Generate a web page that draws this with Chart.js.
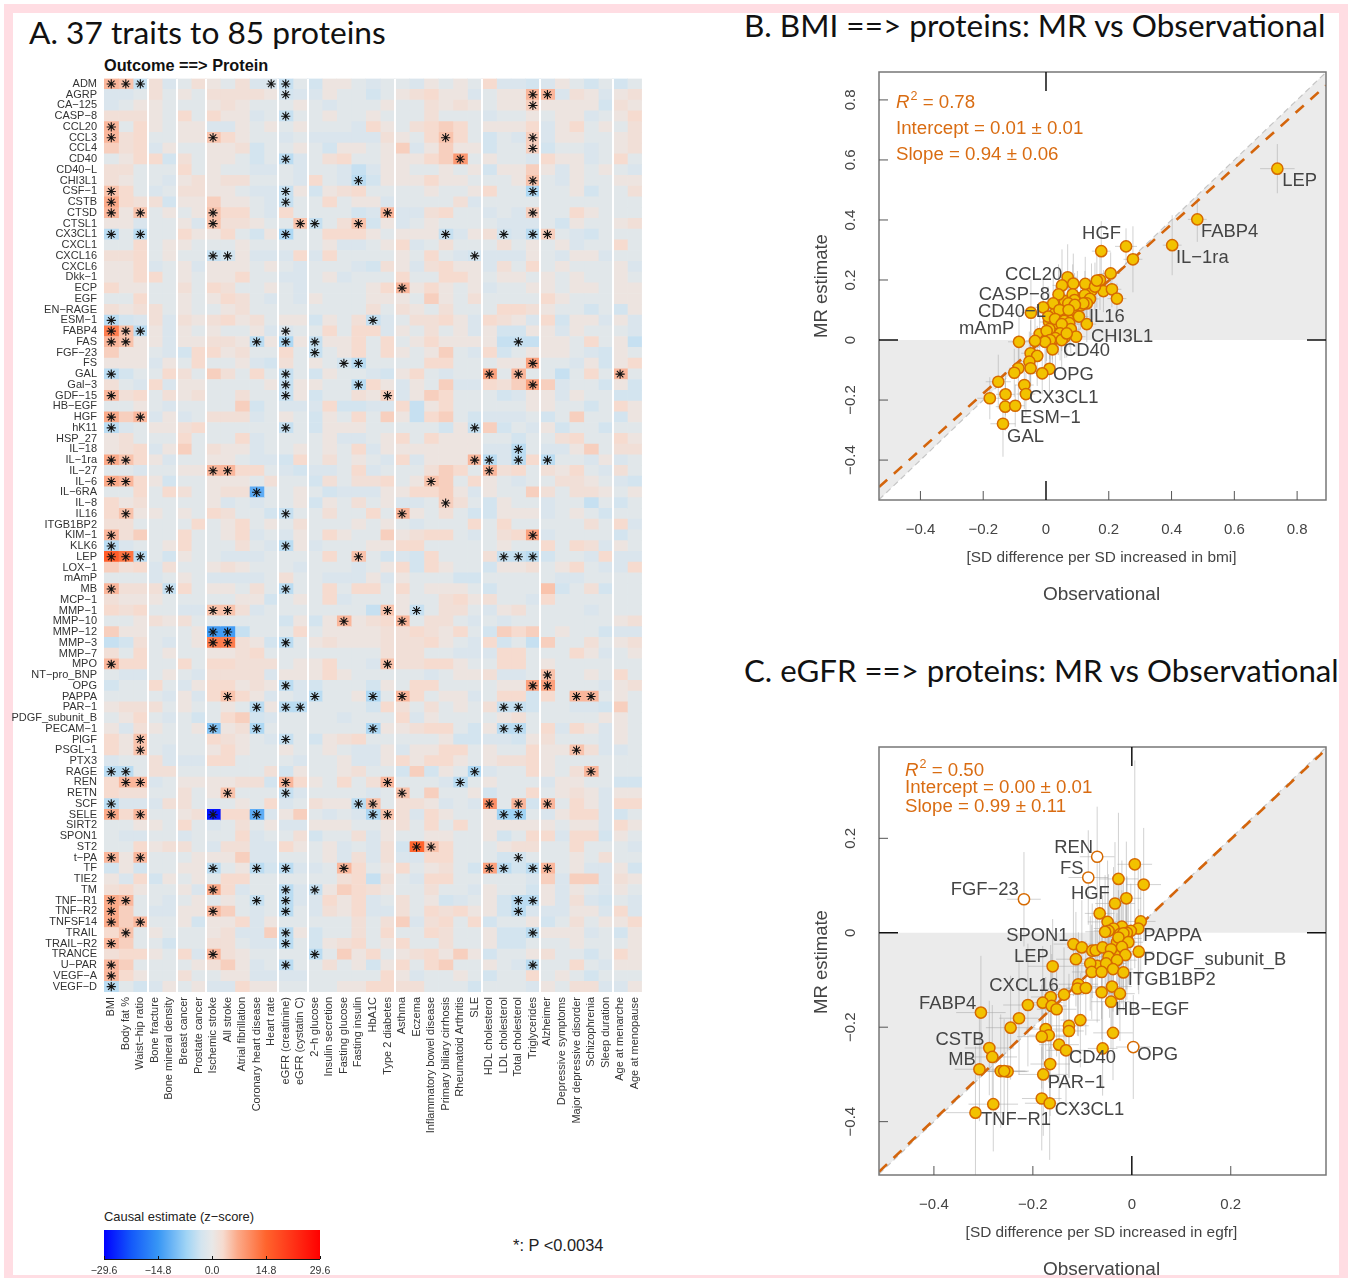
<!DOCTYPE html>
<html>
<head>
<meta charset="utf-8">
<title>Traits to proteins</title>
<script src="https://cdn.jsdelivr.net/npm/chart.js@4/dist/chart.umd.js"></script>
<style>
  html, body { margin: 0; padding: 0; background: #fff; }
  body { position: relative; width: 1356px; height: 1278px; overflow: hidden; }
  #frame { position: absolute; left: 4px; top: 4px; width: 1344px; height: 1280px; box-sizing: border-box; border: 9px solid #ffdde3; }
  canvas { position: absolute; }
  .head { position: absolute; font-family: Lato, sans-serif; color: #111; white-space: nowrap; line-height: 1; }
  .note { position: absolute; font-family: "Liberation Sans", sans-serif; color: #222; white-space: nowrap; line-height: 1; }
</style>
</head>
<body>
<div id="frame"></div>
<div class="head" style="left:29px;top:17px;font-size:31.7px">A. 37 traits to 85 proteins</div>
<div class="head" style="left:744px;top:10px;font-size:31.5px">B. BMI ==&gt; proteins: MR vs Observational</div>
<div class="head" style="left:744px;top:655px;font-size:31.2px">C. eGFR ==&gt; proteins: MR vs Observational</div>
<div class="note" style="left:104px;top:57px;font-size:16.3px;font-weight:bold;color:#111">Outcome ==&gt; Protein</div>
<div class="note" style="left:104px;top:1211px;font-size:12.9px">Causal estimate (z−score)</div>
<div class="note" style="left:513px;top:1237px;font-size:16.4px">*: P &lt;0.0034</div>

<canvas id="heat" width="653" height="1144" style="left:0;top:65px"></canvas>
<canvas id="scale" width="290" height="53" style="left:70px;top:1225px"></canvas>
<canvas id="bmi" width="540" height="550" style="left:800px;top:60px"></canvas>
<canvas id="egfr" width="540" height="543" style="left:800px;top:735px"></canvas>

<script>
// Panel A: heatmap
const proteins = ['ADM','AGRP','CA−125','CASP−8','CCL20','CCL3','CCL4','CD40','CD40−L','CHI3L1','CSF−1','CSTB','CTSD','CTSL1','CX3CL1','CXCL1','CXCL16','CXCL6','Dkk−1','ECP','EGF','EN−RAGE','ESM−1','FABP4','FAS','FGF−23','FS','GAL','Gal−3','GDF−15','HB−EGF','HGF','hK11','HSP_27','IL−18','IL−1ra','IL−27','IL−6','IL−6RA','IL−8','IL16','ITGB1BP2','KIM−1','KLK6','LEP','LOX−1','mAmP','MB','MCP−1','MMP−1','MMP−10','MMP−12','MMP−3','MMP−7','MPO','NT−pro_BNP','OPG','PAPPA','PAR−1','PDGF_subunit_B','PECAM−1','PlGF','PSGL−1','PTX3','RAGE','REN','RETN','SCF','SELE','SIRT2','SPON1','ST2','t−PA','TF','TIE2','TM','TNF−R1','TNF−R2','TNFSF14','TRAIL','TRAIL−R2','TRANCE','U−PAR','VEGF−A','VEGF−D'];
const traits = ['BMI','Body fat %','Waist−hip ratio','Bone fracture','Bone mineral density','Breast cancer','Prostate cancer','Ischemic stroke','All stroke','Atrial fibrillation','Coronary heart disease','Heart rate','eGFR (creatinine)','eGFR (cystatin C)','2−h glucose','Insulin secretion','Fasting glucose','Fasting insulin','HbA1C','Type 2 diabetes','Asthma','Eczema','Inflammatory bowel disease','Primary biliary cirrhosis','Rheumatoid Arthritis','SLE','HDL cholesterol','LDL cholesterol','Total cholesterol','Triglycerides','Alzheimer','Depressive symptoms','Major depressive disorder','Schizophrenia','Sleep duration','Age at menarche','Age at menopause'];
const groupBreaks = [3, 5, 7, 12, 14, 20, 26, 30, 35];

const zScores = [
[6,5,-4,2,-2,-1,2,1,-1,2,-2,-2,-4,-1,-3,1,1,-1,-2,-1,-1,-2,1,-1,1,-1,3,-2,-2,-3,-2,1,-1,-3,-1,-3,-1],
[-2,-2,-1,2,-1,1,-1,2,2,2,2,1,-3,-2,-2,1,-1,-1,-3,-1,1,2,3,1,1,-2,-1,1,1,6,6,-2,2,1,-2,1,2],
[-2,-1,1,1,-1,-1,-1,1,2,1,-1,-1,-1,1,-1,-2,-1,-1,-1,1,-1,-1,2,1,2,1,-1,1,1,4,1,1,1,1,-3,2,1],
[2,2,2,1,-1,3,-1,3,1,1,-2,-1,-4,-1,-1,1,-1,-1,1,-1,-1,-1,2,-1,-1,-1,-2,-1,-1,1,-1,1,1,-2,-1,1,3],
[6,-1,3,1,-1,1,1,-2,-2,1,-1,1,-1,1,-1,-1,-1,-2,3,1,-1,2,3,4,3,-1,1,1,1,3,-2,1,3,-1,1,-1,2],
[6,2,3,-1,-1,1,1,5,3,1,-1,-1,-2,-1,-2,-2,-2,-2,-2,2,1,-1,3,5,3,-1,-3,-1,-2,4,-2,1,1,-1,-1,1,2],
[4,2,3,-2,1,-1,-1,1,1,2,-3,-1,-1,1,-1,-3,1,1,-1,1,4,-2,1,4,1,1,-3,-1,-1,4,-3,-1,-1,-2,-1,1,2],
[-1,1,3,3,-3,2,-1,1,1,-1,-3,-1,-5,-2,-1,2,3,-1,-1,1,1,1,3,4,9,-1,1,-1,-1,-2,3,1,1,-2,-1,3,-1],
[2,2,-1,-1,-1,3,-1,1,-1,-1,-2,-2,-1,-2,-1,-1,-2,-4,-2,1,1,-1,-1,1,-1,1,-3,1,1,4,1,-2,1,-1,1,-1,-2],
[2,1,-1,-1,-2,1,2,1,2,2,-1,-1,-1,-2,3,-1,-2,-5,-3,1,1,1,3,1,1,-1,-1,-1,1,5,-1,-2,1,-1,-1,1,1],
[5,3,-1,-2,-1,2,2,1,1,-1,-2,-2,-4,1,-3,1,2,3,-1,-1,-1,-1,1,-1,-1,1,3,-1,-1,-6,-1,-1,1,-3,-1,-1,2],
[7,3,2,2,-3,1,1,4,1,1,-1,-2,-4,-1,-1,3,-1,1,1,-2,-1,-1,-1,-1,2,-2,-1,-1,-1,-1,-1,-1,-1,-1,-1,-1,-1],
[6,1,5,-1,1,-1,1,5,3,3,-1,-2,3,-1,-1,-1,-1,-3,-2,6,-2,-2,2,3,-1,-1,-2,-1,-2,4,-1,-1,3,1,-1,-1,-1],
[1,1,-2,-1,-1,1,-2,5,2,2,1,-1,-1,5,-4,-1,2,5,-3,1,-2,-1,1,-1,-1,-1,-1,-2,-2,-2,-1,-3,1,-1,-1,1,2],
[-5,-1,-5,-1,-1,3,1,1,3,-1,-3,1,-6,-1,-1,3,3,3,1,-1,1,1,1,-4,-2,1,2,-3,-2,-5,4,-1,-2,-3,-1,-1,-1],
[-1,-1,3,-1,1,1,-1,-1,-1,1,-1,-1,-1,-1,-1,1,-2,-2,-1,1,3,-2,-1,2,-1,-1,-1,2,-1,1,-1,1,-2,-1,-1,3,-1],
[2,2,3,-1,1,-1,-1,-4,-3,1,-2,-2,-2,3,-2,3,-1,-1,-1,-1,1,-1,3,-1,-2,-3,-2,-2,-2,1,-1,-2,1,1,-2,-1,-1],
[1,1,3,-2,-1,1,-2,1,1,1,-1,1,-1,-2,-1,-1,-1,-2,-3,2,1,-2,2,3,1,1,-2,2,-1,3,-1,1,-1,-1,-1,1,-2],
[1,1,3,3,-1,1,-1,1,1,3,-1,-1,-2,-2,-1,1,-2,-1,-1,-1,3,-1,-1,3,3,1,-1,1,1,-1,1,-1,1,-1,-1,1,-1],
[3,1,1,-1,-1,2,-1,3,2,-1,-1,1,-1,-2,-1,-1,-1,-1,1,3,6,1,3,1,-1,1,-2,-1,-1,1,1,-1,1,1,-1,1,1],
[-1,-1,3,-1,-1,1,-1,1,3,2,-1,-2,-1,-2,1,-1,-1,-1,1,1,1,-1,4,1,-1,2,-1,-1,-1,-1,3,1,-1,-1,-1,1,1],
[2,1,2,2,-1,1,-1,-1,1,2,-1,-1,-1,-1,-1,-1,-1,-1,2,-1,2,1,-1,2,-1,-1,-1,3,3,2,1,-1,-1,-3,-1,-3,1],
[-5,-3,-2,2,-2,2,1,2,3,1,2,-1,1,1,-3,1,-1,2,-4,-2,-1,2,2,3,1,-2,3,2,1,-2,3,-3,1,1,-2,1,-2],
[12,5,-5,1,-2,1,-1,1,-1,-1,1,-2,-2,-1,-1,3,-1,3,3,-2,1,-1,2,-1,1,-2,1,-3,-3,1,1,-2,1,-1,-1,-1,-2],
[6,5,1,1,-2,1,1,2,2,1,-5,1,-6,1,-4,1,1,3,-1,3,-1,1,3,1,1,1,1,-4,-4,-4,1,1,-1,3,-1,1,-4],
[4,1,1,-1,-2,-3,3,3,1,2,-1,-1,3,-1,-4,-1,1,3,-1,3,1,-1,1,4,-1,-2,3,-3,-1,1,1,1,-1,-2,-3,1,-1],
[1,1,1,-2,1,-1,3,-1,-1,1,-2,-3,2,-1,1,-1,-3,-5,-1,-1,-1,-1,3,3,-1,-1,-1,1,1,8,-1,-1,-2,1,-3,1,3],
[-5,-3,-1,-1,3,2,-1,4,2,-1,3,-1,-4,-1,-3,1,-1,-1,-2,-3,1,3,-1,-2,-1,-1,8,-1,6,-1,-1,-4,-1,3,-1,6,-1],
[2,-1,-2,3,-2,1,1,-1,-1,-1,-1,1,-4,1,1,-1,-1,-5,3,1,-2,1,-1,4,-2,-2,3,2,4,8,4,-2,-1,-1,-3,1,-3],
[6,2,3,-1,2,1,2,-1,-1,2,-1,-1,-4,1,-3,-1,-1,2,1,4,-2,1,4,3,-1,-1,-1,-3,-2,1,1,-2,1,-1,-1,-3,-3],
[-1,-1,1,-1,-2,-1,-1,-1,-1,4,-3,-1,-2,-2,-2,3,-3,-3,-2,-2,3,-4,1,3,-1,-1,-1,-1,-1,1,1,-1,-1,-3,-1,3,1],
[7,4,6,-2,1,-2,-1,2,2,2,-2,-1,1,-1,-3,1,-1,3,-1,4,1,-4,3,4,-1,-3,-2,-2,-2,-1,-3,-1,4,-1,-1,-3,1],
[-5,-2,-1,1,1,2,3,-1,-1,-1,-1,-1,-4,-1,-3,1,1,1,-1,-1,-1,-1,-1,-3,1,-4,4,-3,-1,-2,1,-3,-1,-1,-3,-1,-1],
[1,2,-1,-1,-1,3,-1,-1,-1,3,-2,-1,-1,-1,-1,1,-2,-2,-1,1,3,-1,3,1,1,1,-1,-1,-3,-1,-1,2,3,-1,-1,3,1],
[1,2,3,-2,1,4,-1,2,1,1,-2,-1,-1,1,-1,1,-1,3,-2,1,1,1,1,1,1,1,-2,-2,-5,-1,-2,-2,1,4,-1,2,2],
[7,5,3,1,-2,-1,-1,1,1,-1,-2,-2,-3,3,-1,2,-1,1,-1,-2,3,-2,1,1,1,6,-5,-2,-5,3,-5,-1,-1,-2,1,-2,-1],
[-1,-1,-2,-1,-1,1,1,6,6,3,3,-1,-2,-3,-2,-2,-1,3,-2,-1,-1,-1,2,4,3,-1,6,2,3,-1,2,1,3,-1,-2,2,-1],
[7,6,3,1,-3,-1,-1,1,1,1,-1,2,-1,-1,-3,2,-1,2,2,3,-1,1,5,4,-1,3,1,-1,-2,-1,-1,2,2,1,-1,-2,-3],
[-1,-1,3,-1,3,2,-1,1,2,2,-12,-1,-1,1,-1,-3,-2,-2,-2,1,1,3,3,4,1,-2,1,-1,-1,4,2,-1,2,2,1,-1,1],
[3,1,2,-1,-1,-1,-1,1,-2,-1,-2,-1,-1,1,-3,1,-1,2,-1,1,-2,-2,-1,4,2,-1,-3,1,-1,-1,-2,-1,-1,-4,-1,-3,-1],
[3,5,1,1,-1,1,-1,3,2,-1,-1,-3,-4,-1,-1,2,-1,-1,3,-1,6,1,-1,2,-1,-3,-3,1,1,1,-2,-1,1,-1,-3,-1,-1],
[2,2,-1,-1,-1,-1,3,-1,1,3,-1,1,-1,2,-1,-1,-1,1,-1,1,-1,-2,-1,-1,-1,3,-1,3,-1,-1,-1,-1,-1,2,-1,3,-2],
[6,2,4,-1,-1,3,-1,-1,1,3,-2,-1,-2,1,-1,3,1,-1,-1,4,1,2,3,3,-1,-2,-1,2,3,8,-2,-1,-1,-1,-1,-3,-1],
[-5,-2,-1,-1,1,3,-1,-1,-1,2,-1,-2,-5,1,-2,-1,-1,-1,1,1,3,3,-1,-1,-1,-1,-1,1,-1,-1,3,-1,3,2,-2,1,-1],
[16,13,-5,-1,-3,1,-1,-1,-2,-2,-2,-1,-1,-1,-1,3,-1,5,-1,-3,-2,-3,3,-1,-1,-1,2,-4,-4,-5,-3,-1,-1,-2,3,-2,-2],
[4,2,3,-2,2,-1,-1,1,2,1,-1,-1,-1,-2,-1,-1,-1,-2,-1,1,3,-3,3,1,-1,-1,-3,1,1,2,-1,1,3,-1,-2,-2,3],
[-1,-1,-1,-2,-1,1,-1,-2,-2,-2,-2,-1,2,-1,-1,-2,-2,-2,1,-2,1,-1,-1,-1,-3,-3,-1,-1,-1,-1,-1,-2,-2,-1,-1,-1,-1],
[6,2,2,2,-4,3,-1,1,1,-1,2,-1,-5,-1,-1,3,-1,3,3,-1,3,-1,1,1,1,-1,-3,-1,-1,-1,5,-3,-1,2,-3,-1,-1],
[2,1,1,1,-1,-1,-1,-1,-1,1,1,-3,-1,1,-1,3,-2,-1,-1,-1,1,-1,-1,2,3,1,2,-1,-1,-2,3,-1,-1,-1,-1,-1,-1],
[3,2,3,-1,-1,-2,-2,5,5,2,-2,-1,-1,-1,-1,-1,-1,-1,-4,5,1,-4,-1,2,2,-1,-2,1,2,-1,-1,-1,-1,-2,-1,-1,-1],
[-1,-1,1,2,1,2,-1,-1,-1,-1,-1,-1,-3,1,-3,1,6,1,2,3,6,-1,2,2,-1,-2,-1,-2,-1,-1,-1,-1,-1,-1,-1,1,2],
[4,1,1,-1,-1,-1,1,-14,-14,-4,-1,-1,-1,3,-1,1,1,1,1,2,2,3,2,1,3,-1,-3,4,3,4,-1,1,-1,-1,-3,-2,-2],
[-4,-3,2,-1,-2,-1,1,12,12,2,1,-3,-5,-1,1,2,1,1,1,2,2,2,3,1,-1,-2,3,-3,-1,-4,4,-1,-1,2,-1,1,2],
[2,-1,3,-1,1,-1,-1,1,1,2,3,-1,-1,-1,-1,-1,-1,-1,-1,2,2,2,-1,-1,-2,-2,-2,3,3,-1,-1,-1,3,1,-2,-1,1],
[6,3,3,-1,-1,3,-1,3,3,2,2,2,-1,1,1,3,-1,-1,-2,5,2,2,3,3,1,-1,-1,3,3,-1,1,-1,-1,-1,-1,-1,-1],
[-1,-2,-2,-1,1,-1,-2,2,2,2,2,-2,1,1,1,3,1,-1,-1,-1,-1,-1,-2,-1,1,1,2,-2,-2,-1,5,-1,-1,1,-1,3,-1],
[-3,-1,-1,3,-1,-2,1,3,3,1,2,1,-5,-2,-3,-1,-1,-1,-3,1,-1,3,3,-1,-1,-1,-1,1,1,8,8,-1,-1,-1,-2,1,2],
[-1,-1,-1,-1,-2,1,-2,3,5,3,1,-2,-1,-2,-5,-1,-1,1,-6,-1,6,3,-1,1,1,-2,-1,3,3,-3,3,-1,6,6,-1,1,-1],
[1,2,2,2,-1,1,-1,-1,1,-1,-5,1,-5,-5,-1,-1,-1,-1,-3,3,2,-1,2,-1,1,-1,2,-4,-4,-3,-1,-1,-2,-2,-3,4,-1],
[-1,1,3,-1,-2,-1,-3,-1,3,4,-3,-2,-1,-1,-1,-1,-2,-1,-1,-1,3,-2,1,-1,-1,-1,-1,1,2,-1,-1,-1,-1,-1,1,1,-1],
[1,-2,2,1,-1,-1,1,-9,1,2,-6,-1,-1,-1,-1,-1,-1,-1,-6,1,1,2,3,3,-1,-3,1,-5,-5,-1,3,-2,3,1,-2,1,-1],
[3,1,5,-1,-1,-1,-1,3,2,1,-1,-2,-4,-1,-3,1,2,3,-1,-1,-1,-1,-1,1,-3,-3,-2,-2,-3,1,2,-1,-1,-1,-2,1,-1],
[3,1,5,-1,-2,-1,-1,1,3,1,-1,-1,1,-1,-1,1,-1,-2,-2,1,-2,1,1,3,3,-1,1,-1,-1,3,1,1,5,2,-2,-2,-1],
[-2,-1,-1,2,-2,-2,-2,3,3,-1,-1,-1,-1,-2,-1,-1,1,-2,-2,1,3,1,3,3,1,-1,1,2,2,3,1,-1,-1,-1,-1,-1,-1],
[-5,-5,-1,2,2,-1,-1,-1,-1,-1,-1,2,-3,1,-1,-1,1,2,-1,-1,-3,4,-3,1,-1,-6,-2,-1,-1,3,1,-1,2,6,-1,-1,-1],
[3,6,6,-2,-1,1,1,1,1,2,2,-3,6,3,1,-1,3,-1,2,6,-1,-1,-1,-2,-5,-1,1,-1,-1,-1,-2,1,1,-1,-1,-3,-3],
[3,2,2,-1,-1,2,-1,1,5,-1,-1,-1,-4,-2,-1,-1,-1,-1,-2,-1,5,-1,4,-1,-1,1,-3,-1,-1,3,-1,1,2,1,-2,1,1],
[-5,-2,-2,-2,2,2,-1,-1,-1,1,-1,3,-2,-1,2,1,1,-5,5,-1,2,2,1,-2,-1,-2,10,-1,6,-3,6,-1,3,1,-2,3,3],
[7,3,6,-1,-1,1,2,-28,3,3,-12,-2,1,4,-1,-2,-1,-2,-6,5,2,-2,3,1,-1,-1,1,-7,-7,-1,-2,1,3,3,-2,-3,-1],
[-1,-1,1,1,-1,3,-1,-2,-1,2,-1,1,-2,-2,1,1,1,-1,-1,1,2,-1,3,-1,3,-1,1,1,1,1,1,-1,1,1,-2,3,1],
[-1,-2,-2,-1,-1,-2,-1,-1,-1,3,-2,-1,-1,2,-3,-1,-1,2,-2,1,-1,-1,1,1,-1,-1,1,-3,-1,3,3,-2,3,3,-3,1,-1],
[-1,-1,3,1,2,2,-1,-2,2,2,-2,-2,3,1,-1,1,-2,-1,-2,2,-3,15,5,3,-1,-1,-1,1,2,2,-1,-1,3,-1,-1,-1,-2],
[6,1,6,-1,-1,-1,1,1,1,4,-2,-2,-1,-1,-1,1,-2,2,-2,2,-2,-2,3,3,-1,-1,-1,-3,-3,-1,-1,-1,1,-1,2,-1,-1],
[-3,1,-3,-1,-1,1,1,-5,-1,1,-5,-3,-5,-2,-2,-1,6,3,-1,1,3,-1,1,2,-1,-3,8,-5,-3,-5,6,-1,1,-2,-2,1,-3],
[1,-2,3,-3,1,-1,1,-1,3,3,-1,-1,-1,-1,-1,-1,2,3,-4,2,-1,-2,3,3,-1,-1,-1,-1,-1,-2,4,-2,4,4,-2,2,1],
[2,3,1,-1,-1,1,-2,7,3,-2,-1,-1,-5,-2,-4,1,4,3,2,1,-1,-1,2,-1,-1,-2,1,-1,-1,-3,1,-2,1,-1,-2,1,-1],
[7,6,-1,-1,-2,-1,1,-1,1,-1,-4,-1,-5,-2,-2,3,1,3,-2,-1,2,-1,1,-3,-2,-1,1,-3,-5,-5,1,-2,2,-2,-3,-1,-2],
[7,4,-1,-2,-2,1,1,6,4,-1,-2,-1,-5,-1,-2,2,1,3,-2,-2,2,-1,3,2,3,1,1,-3,-5,-2,-2,-2,1,1,-2,3,-2],
[7,4,6,-1,-1,1,-3,1,1,3,-2,1,-1,-1,-1,-1,-1,2,-1,2,4,-2,2,3,-1,3,-3,-1,-1,1,-3,-1,2,-1,1,1,3],
[3,5,-1,1,-1,-1,-1,1,2,-2,-2,4,-5,1,-3,-1,-1,2,-1,3,-1,-1,3,2,-1,-1,1,-3,-3,-5,1,1,1,-2,-1,-3,1],
[6,4,-1,-1,-3,-1,-1,2,2,-1,-2,-2,-5,-1,-3,1,2,3,-1,1,3,-1,-1,2,-1,-1,1,-3,-3,-1,-1,-1,1,-1,-1,-1,1],
[2,3,3,1,-1,3,-2,6,2,1,-1,-1,-1,-1,-5,-1,4,1,3,-1,1,2,3,1,4,1,-3,-1,-1,1,2,-1,-1,-3,-1,3,1],
[6,4,-1,-1,-1,-1,1,2,4,1,-2,-1,-5,-1,-1,2,-1,1,-3,1,3,-1,3,4,-1,-1,1,-1,-2,-5,-1,-1,3,-1,-2,1,1],
[6,3,1,-1,-1,2,-1,-1,1,1,-2,-2,-2,-2,-1,-1,-1,-1,-1,3,1,-2,-1,-1,1,-1,-3,-1,-1,3,-1,1,-1,-3,-1,-1,-1],
[-5,-1,-3,-2,1,-1,1,-2,-2,3,1,1,-1,-1,-1,-1,1,1,3,3,2,2,-1,-1,-1,-3,-1,-1,-1,-2,1,-1,2,2,-2,-2,1]
];

// columns of the cells marked with an asterisk, one list per protein
const starCols = [
[0,1,2,11,12],[12,29,30],[29],[12],[0],[0,7,23,29],[29],[12,24],[],[17,29],
[0,12,29],[0,12],[0,2,7,19,29],[7,13,14,17],[0,2,12,23,27,29,30],[],[7,8,25],[],[],[20],
[],[],[0,18],[0,1,2,12],[0,1,10,12,14,28],[14],[16,17,29],[0,12,26,28,35],[12,17,29],[0,12,19],
[],[0,2],[0,12,25],[],[28],[0,1,25,26,28,30],[7,8,26],[0,1,22],[10],[23],
[1,12,20],[],[0,29],[0,12],[0,1,2,17,27,28,29],[],[],[0,4,12],[],[7,8,19,21],
[16,20],[7,8],[7,8,12],[],[0,19],[30],[12,29,30],[8,14,18,20,32,33],[10,12,13,27,28],[],
[7,10,18,27,28],[2,12],[2,32],[],[0,1,25,33],[1,2,12,19,24],[8,12,20],[0,17,18,26,28,30],[0,2,7,10,18,19,27,28],[],
[],[21,22],[0,2,28],[7,10,12,16,26,27,29,30],[],[7,12,14],[0,1,10,12,28,29],[0,7,12,28],[0,2],[1,12,29],
[0,12],[7,14],[0,12,29],[0],[0]
];

const stopValues = [-29.6, -22, -14.8, -7, -3, 0, 3, 7, 14.8, 29.6];
const stopColors = [[0,0,255],[20,90,250],[55,150,245],[160,212,245],[211,228,239],[232,232,232],[246,219,207],[251,170,137],[255,100,45],[255,0,0]];
const scaleTicks = [-29.6, -14.8, 0, 14.8, 29.6];

// Panel B: BMI, observational (x) vs MR (y)
const bmiObs = [.06,.03,.065,.04,.025,.06,.02,.015,.035,.11,.145,.085,.01,.055,-.02,.07,0,.1,.737,.482,.402,.176,.255,.277,.206,.183,.21,.226,.069,.051,.087,.125,.156,.172,.162,.04,.085,.091,.124,.14,.13,.119,.023,.071,.092,-.009,-.048,.043,.072,.007,.029,.058,.105,.13,.074,.079,.05,.011,.002,.045,.096,.03,.013,-.003,-.035,-.086,.021,.05,.066,-.049,-.028,-.053,-.049,-.088,-.101,.011,-.012,-.152,-.069,-.064,-.129,-.179,-.13,-.098,-.137];
const bmiMr = [.13,.09,.045,.03,.045,.01,.015,-.01,.02,.115,.165,.085,.06,.095,.02,.07,0,.14,.571,.402,.316,.296,.312,.269,.222,.163,.169,.138,.209,.182,.188,.187,.178,.2,.198,.152,.152,.133,.15,.137,.122,.122,.122,.122,.117,.109,.091,.1,.1,.078,.07,.064,.078,.053,.056,.036,.053,.036,.03,.022,.011,.006,0,-.006,-.003,-.006,-.031,0,.022,-.044,-.053,-.072,-.094,-.094,-.109,-.096,-.111,-.139,-.15,-.18,-.181,-.194,-.222,-.219,-.279];
const bmiObsErr = [.03,.03,.02,.03,.03,.02,.03,.02,.03,.03,.03,.02,.03,.03,.03,.03,.02,.03,.055,.03,.03,.03,.035,.03,.03,.02,.03,.03,.03,.03,.03,.03,.03,.03,.03,.02,.03,.02,.03,.03,.02,.03,.03,.02,.03,.03,.03,.02,.03,.03,.02,.03,.03,.03,.02,.03,.03,.03,.02,.03,.03,.02,.03,.03,.03,.035,.02,.03,.03,.03,.02,.03,.03,.03,.03,.02,.03,.04,.03,.03,.03,.04,.03,.03,.04];
const bmiMrErr = [.08,.09,.07,.08,.09,.07,.08,.09,.07,.08,.09,.07,.1,.08,.09,.07,.08,.09,.082,.075,.1,.1,.06,.11,.07,.07,.06,.05,.11,.12,.1,.09,.08,.1,.09,.1,.1,.09,.08,.07,.08,.08,.1,.09,.08,.1,.11,.09,.09,.1,.09,.08,.07,.06,.08,.08,.09,.1,.1,.09,.06,.1,.09,.1,.11,.11,.08,.09,.08,.11,.1,.1,.1,.11,.08,.08,.07,.09,.08,.07,.07,.07,.08,.07,.11];

// Panel C: eGFR, observational (x) vs MR (y)
const egfrObs = [-.03,-.01,-.045,-.025,-.07,-.07,-.088,-.218,.006,.024,-.027,-.011,-.034,-.065,.018,-.049,.013,-.02,-.037,-.047,-.054,-.002,-.01,-.024,-.017,-.027,-.007,-.02,-.118,-.101,-.08,-.073,-.059,-.042,.014,-.013,-.113,-.047,-.03,-.052,-.084,-.16,-.081,-.061,-.038,-.017,-.108,-.11,-.093,-.061,-.04,-.024,-.042,-.137,-.164,-.18,-.162,-.152,-.21,-.228,-.245,-.305,-.104,-.127,-.127,-.174,-.168,-.182,-.038,-.147,-.133,-.059,.003,-.288,-.282,-.308,-.265,-.251,-.258,-.165,-.179,-.182,-.166,-.28,-.316];
const egfrMr = [-.02,-.012,-.06,-.045,-.07,.161,.117,.071,.145,.102,.114,.073,.062,.041,.024,.023,.009,.013,.009,.004,.002,.004,0,-.003,-.001,-.01,-.02,-.03,-.024,-.031,-.038,-.037,-.031,-.035,-.04,-.047,-.056,-.051,-.058,-.065,-.065,-.071,-.083,-.083,-.077,-.084,-.109,-.118,-.117,-.126,-.114,-.129,-.146,-.131,-.136,-.148,-.155,-.162,-.153,-.181,-.201,-.169,-.185,-.197,-.208,-.204,-.217,-.22,-.212,-.237,-.249,-.245,-.242,-.244,-.263,-.289,-.293,-.294,-.293,-.278,-.3,-.351,-.361,-.363,-.381];
const egfrObsErr = [.04,.03,.04,.03,.04,.035,.04,.034,.035,.035,.04,.03,.04,.03,.03,.04,.03,.03,.04,.03,.04,.03,.03,.04,.03,.03,.03,.04,.04,.03,.04,.04,.03,.04,.03,.04,.04,.03,.04,.04,.03,.05,.04,.03,.04,.03,.04,.03,.04,.03,.04,.03,.04,.04,.04,.04,.03,.04,.05,.04,.05,.05,.04,.04,.03,.04,.04,.05,.04,.04,.04,.03,.035,.05,.05,.05,.05,.04,.05,.04,.05,.04,.05,.05,.06];
const egfrMrErr = [.14,.13,.12,.12,.12,.106,.1,.1,.22,.12,.14,.12,.13,.12,.12,.13,.13,.14,.13,.12,.12,.1,.12,.11,.12,.1,.09,.12,.11,.1,.1,.09,.11,.1,.09,.11,.1,.11,.1,.09,.1,.1,.1,.1,.09,.08,.11,.1,.1,.1,.1,.1,.1,.1,.11,.12,.11,.1,.13,.12,.11,.12,.1,.11,.1,.11,.1,.11,.1,.12,.11,.1,.11,.1,.11,.11,.12,.1,.11,.11,.13,.11,.12,.1,.14];
const egfrHollow = [5, 6, 7, 72];

// Point labels in data units of each panel: name, x, y of the label's left middle
const bmiLabels = [['LEP',.753,.537],['FABP4',.494,.367],['IL−1ra',.414,.28],['HGF',.115,.36],['CCL20',-.131,.223],['CASP−8',-.214,.157],['CD40−L',-.217,.1],['mAmP',-.277,.043],['IL16',.137,.083],['CHI3L1',.143,.017],['CD40',.054,-.03],['OPG',.022,-.11],['CX3CL1',-.054,-.187],['ESM−1',-.083,-.253],['GAL',-.124,-.317]];
const egfrLabels = [['REN',-.157,.183],['FS',-.145,.139],['FGF−23',-.366,.095],['HGF',-.123,.086],['SPON1',-.254,-.003],['PAPPA',.023,-.003],['LEP',-.238,-.047],['PDGF_subunit_B',.023,-.053],['ITGB1BP2',-.008,-.096],['CXCL16',-.288,-.109],['FABP4',-.43,-.147],['HB−EGF',-.034,-.159],['CSTB',-.397,-.223],['MB',-.371,-.265],['CD40',-.127,-.261],['OPG',.011,-.254],['PAR−1',-.17,-.313],['CX3CL1',-.156,-.372],['TNF−R1',-.305,-.393]];

const sansFont = '"Liberation Sans", sans-serif';
Chart.defaults.font.family = sansFont;
Chart.defaults.animation = false;
Chart.defaults.plugins.legend.display = false;
Chart.defaults.plugins.tooltip.enabled = false;

function zColor(v) {
    let i = 0;
    while (i < stopValues.length - 2 && v > stopValues[i + 1]) i++;
    const t = (v - stopValues[i]) / (stopValues[i + 1] - stopValues[i]);
    const c = stopColors[i].map((a, k) => Math.round(a + (stopColors[i + 1][k] - a) * t));
    return 'rgb(' + c.join(',') + ')';
}

function minusText(v) {
    return String(v).replace('-', '\u2212');
}

// one floating bar per cell, one dataset per trait
const heatDatasets = traits.map((t, c) => ({
    label: t,
    data: proteins.map(() => [c, c + 1]),
    backgroundColor: zScores.map(row => zColor(row[c])),
    borderWidth: 0,
    grouped: false,
    barPercentage: 1,
    categoryPercentage: 1,
    xAxisID: 'x',
    yAxisID: 'y'
}));

const starPoints = [];
starCols.forEach((cols, r) => cols.forEach(c => starPoints.push({ x: c + 0.5, y: proteins[r] })));

heatDatasets.push({
    type: 'scatter',
    label: 'P < 0.0034',
    data: starPoints,
    pointStyle: 'star',
    pointRadius: 4.6,
    borderColor: '#111',
    borderWidth: 1.1,
    backgroundColor: '#111',
    order: -1,
    xAxisID: 'x',
    yAxisID: 'y'
});

new Chart(document.getElementById('heat'), {
    type: 'bar',
    data: { labels: proteins, datasets: heatDatasets },
    options: {
        responsive: false,
        indexAxis: 'y',
        layout: { padding: 0 },
        scales: {
            x: {
                type: 'linear', min: 0, max: 37,
                grid: { display: false, drawTicks: false },
                border: { display: false },
                afterBuildTicks: s => { s.ticks = traits.map((t, i) => ({ value: i + 0.5 })); },
                afterFit: s => { s.height = 217; },
                ticks: {
                    autoSkip: false, minRotation: 90, maxRotation: 90, padding: 5,
                    color: '#333', font: { size: 11 },
                    callback: v => traits[Math.floor(v)]
                }
            },
            gaps: {
                type: 'linear', min: 0, max: 37, position: 'top', axis: 'x',
                grid: { color: '#fff', lineWidth: 2, z: 1, drawTicks: false },
                border: { display: false },
                afterBuildTicks: s => { s.ticks = groupBreaks.map(v => ({ value: v })); },
                afterFit: s => { s.height = 0; },
                ticks: { display: false }
            },
            y: {
                type: 'category', offset: true,
                grid: { display: false, drawTicks: false },
                border: { display: false },
                afterFit: s => { s.width = 104; },
                ticks: { autoSkip: false, padding: 7, color: '#333', font: { size: 11 } }
            }
        }
    }
});

// Colour key
new Chart(document.getElementById('scale'), {
    type: 'bar',
    data: {
        labels: ['z'],
        datasets: [{
            data: [[scaleTicks[0], scaleTicks[4]]],
            barPercentage: 1,
            categoryPercentage: 1,
            borderWidth: 0,
            backgroundColor: ctx => {
                const s = ctx.chart.scales.x;
                if (!s || !ctx.chart.chartArea) return '#ccc';
                const g = ctx.chart.ctx.createLinearGradient(s.left, 0, s.right, 0);
                stopValues.forEach(v => g.addColorStop((v + 29.6) / 59.2, zColor(v)));
                return g;
            }
        }]
    },
    options: {
        responsive: false,
        indexAxis: 'y',
        layout: { padding: { left: 34, right: 40, top: 5 } },
        scales: {
            y: { display: false },
            x: {
                type: 'linear', min: -29.6, max: 29.6,
                grid: { display: false, drawTicks: false },
                border: { display: false },
                afterBuildTicks: s => { s.ticks = scaleTicks.map(v => ({ value: v })); },
                afterFit: s => { s.height = 19; },
                ticks: {
                    padding: 6, color: '#333', font: { size: 10.5 }, autoSkip: false, maxRotation: 0,
                    callback: v => minusText(v.toFixed(1))
                }
            }
        }
    },
    plugins: [{
        id: 'keyTicks',
        afterDatasetsDraw(chart) {
            const { ctx, chartArea, scales } = chart;
            ctx.save();
            ctx.strokeStyle = '#111';
            ctx.lineWidth = 1;
            ctx.beginPath();
            ctx.moveTo(chartArea.left, chartArea.bottom + 0.5);
            ctx.lineTo(chartArea.right, chartArea.bottom + 0.5);
            scaleTicks.forEach(v => {
                const x = Math.round(scales.x.getPixelForValue(v)) + 0.5;
                ctx.moveTo(x, chartArea.bottom);
                ctx.lineTo(x, chartArea.bottom - 3);
            });
            ctx.stroke();
            ctx.restore();
        }
    }]
});

// Panels B and C
const statsColor = '#d96c12';
const labelColor = '#444';

const panelPlugin = {
    id: 'panelText',
    afterDatasetsDraw(chart, args, o) {
        const { ctx, chartArea: a, scales: { x, y } } = chart;
        ctx.save();

        // box and inward ticks
        ctx.strokeStyle = '#777';
        ctx.lineWidth = 1.5;
        ctx.strokeRect(a.left, a.top, a.right - a.left, a.bottom - a.top);
        ctx.lineWidth = 1;
        ctx.strokeStyle = '#555';
        ctx.beginPath();
        o.ticks.forEach(v => {
            if (v === 0) return;
            const py = y.getPixelForValue(v), px = x.getPixelForValue(v);
            ctx.moveTo(a.left, py); ctx.lineTo(a.left + 9, py);
            if (x.max > v) { ctx.moveTo(px, a.bottom); ctx.lineTo(px, a.bottom - 9); }
        });
        ctx.stroke();
        const x0 = x.getPixelForValue(0), y0 = y.getPixelForValue(0);
        ctx.strokeStyle = '#111';
        ctx.lineWidth = 1.5;
        ctx.beginPath();
        ctx.moveTo(a.left, y0); ctx.lineTo(a.left + 19, y0);
        ctx.moveTo(a.right, y0); ctx.lineTo(a.right - 19, y0);
        ctx.moveTo(x0, a.top); ctx.lineTo(x0, a.top + 19);
        ctx.moveTo(x0, a.bottom); ctx.lineTo(x0, a.bottom - 19);
        ctx.stroke();

        // y tick labels are rotated
        ctx.fillStyle = labelColor;
        ctx.textBaseline = 'middle';
        ctx.textAlign = 'center';
        ctx.font = '15px ' + sansFont;
        o.ticks.forEach(v => {
            if (y.getPixelForValue(v) < a.top) return;
            ctx.save();
            ctx.translate(a.left - 28, y.getPixelForValue(v));
            ctx.rotate(-Math.PI / 2);
            ctx.fillText(v === 0 ? '0' : minusText(v), 0, 0);
            ctx.restore();
        });

        ctx.font = '18.5px ' + sansFont;
        ctx.save();
        ctx.translate(a.left - 57, (a.top + a.bottom) / 2 + o.yTitleShift);
        ctx.rotate(-Math.PI / 2);
        ctx.fillText('MR estimate', 0, 0);
        ctx.restore();
        ctx.font = '19px ' + sansFont;
        ctx.fillText('Observational', (a.left + a.right) / 2 - 1, a.bottom + 95);
        ctx.font = '15.4px ' + sansFont;
        ctx.fillText(o.caption, (a.left + a.right) / 2 - 1, a.bottom + 58);

        // point labels
        ctx.textAlign = 'left';
        ctx.font = '18.4px ' + sansFont;
        o.labels.forEach(([name, lx, ly]) => {
            ctx.fillText(name, x.getPixelForValue(lx), y.getPixelForValue(ly) + 2);
        });

        // regression text
        ctx.fillStyle = statsColor;
        const sx = a.left + o.statsLeft;
        ctx.font = 'italic 18.7px ' + sansFont;
        ctx.fillText('R', sx, a.top + o.statsY[0]);
        let w = ctx.measureText('R').width;
        ctx.font = '12.5px ' + sansFont;
        ctx.fillText('2', sx + w + 1, a.top + o.statsY[0] - 6);
        w += ctx.measureText('2').width + 1;
        ctx.font = '18.7px ' + sansFont;
        ctx.fillText(' = ' + o.r2, sx + w, a.top + o.statsY[0]);
        ctx.fillText(o.intercept, sx, a.top + o.statsY[1]);
        ctx.fillText(o.slope, sx, a.top + o.statsY[2]);
        ctx.restore();
    }
};

function errorSegments(xs, ys, xe, ye) {
    const out = [];
    xs.forEach((v, i) => {
        out.push({ x: v - xe[i], y: ys[i] }, { x: v + xe[i], y: ys[i] }, { x: NaN, y: NaN });
        out.push({ x: v, y: ys[i] - ye[i] }, { x: v, y: ys[i] + ye[i] }, { x: NaN, y: NaN });
    });
    return out;
}

function makePanel(id, cfg) {
    new Chart(document.getElementById(id), {
        type: 'scatter',
        data: {
            datasets: [
                {
                    label: 'points',
                    data: cfg.xs.map((v, i) => ({ x: v, y: cfg.ys[i] })),
                    pointRadius: 5.6,
                    pointBorderWidth: 1.5,
                    pointBorderColor: '#d66a00',
                    pointBackgroundColor: ctx => cfg.hollow.includes(ctx.dataIndex) ? '#fff' : '#f2c200',
                    order: 0
                },
                {
                    label: 'fit',
                    type: 'line',
                    data: cfg.fit,
                    borderColor: '#d4650c',
                    borderWidth: 2.6,
                    borderDash: [11, 9],
                    pointRadius: 0,
                    order: 1
                },
                {
                    label: 'error bars',
                    type: 'line',
                    data: errorSegments(cfg.xs, cfg.ys, cfg.xe, cfg.ye),
                    borderColor: 'rgba(165,165,165,0.5)',
                    borderWidth: 1,
                    pointRadius: 0,
                    spanGaps: false,
                    order: 2
                },
                {
                    label: 'identity',
                    type: 'line',
                    data: cfg.identity,
                    borderColor: '#c6c6c6',
                    borderWidth: 1.2,
                    borderDash: [6, 4],
                    backgroundColor: '#ebebeb',
                    fill: 'origin',
                    pointRadius: 0,
                    order: 3
                }
            ]
        },
        options: {
            responsive: false,
            layout: { padding: { top: 12, right: 14 } },
            scales: {
                x: {
                    type: 'linear', min: cfg.xRange[0], max: cfg.xRange[1],
                    grid: { display: false, drawTicks: false },
                    border: { display: false },
                    afterBuildTicks: s => { s.ticks = cfg.ticks.filter(v => v < cfg.xRange[1]).map(v => ({ value: v })); },
                    afterFit: s => { s.height = cfg.xAxisHeight; },
                    ticks: {
                        padding: 21, color: labelColor, font: { size: 15 }, maxRotation: 0, autoSkip: false,
                        callback: v => v === 0 ? '0' : minusText(v)
                    }
                },
                y: {
                    type: 'linear', min: cfg.yRange[0], max: cfg.yRange[1],
                    grid: { display: false },
                    border: { display: false },
                    afterFit: s => { s.width = 79; },
                    ticks: { display: false }
                }
            },
            plugins: {
                panelText: {
                    ticks: cfg.ticks, caption: cfg.caption, labels: cfg.labels,
                    r2: cfg.r2, intercept: cfg.intercept, slope: cfg.slope,
                    statsLeft: cfg.statsLeft, statsY: cfg.statsY, yTitleShift: cfg.yTitleShift
                }
            }
        },
        plugins: [panelPlugin]
    });
}

makePanel('bmi', {
    xs: bmiObs, ys: bmiMr, xe: bmiObsErr, ye: bmiMrErr, hollow: [],
    xRange: [-0.532, 0.892], yRange: [-0.533, 0.893],
    ticks: [-0.4, -0.2, 0, 0.2, 0.4, 0.6, 0.8],
    fit: [{ x: -0.532, y: -0.49 }, { x: 0.892, y: 0.848 }],
    identity: [{ x: -0.532, y: -0.532 }, { x: 0, y: 0 }, { x: 0.892, y: 0.892 }],
    labels: bmiLabels,
    caption: '[SD difference per SD increased in bmi]',
    r2: '0.78', intercept: 'Intercept = 0.01 ± 0.01', slope: 'Slope = 0.94 ± 0.06',
    statsLeft: 17, statsY: [31, 57, 83], yTitleShift: 0,
    xAxisHeight: 110
});

makePanel('egfr', {
    xs: egfrObs, ys: egfrMr, xe: egfrObsErr, ye: egfrMrErr, hollow: egfrHollow,
    xRange: [-0.511, 0.3925], yRange: [-0.513, 0.3934],
    ticks: [-0.4, -0.2, 0, 0.2],
    fit: [{ x: -0.511, y: -0.506 }, { x: 0.385, y: 0.381 }],
    identity: [{ x: -0.511, y: -0.511 }, { x: 0, y: 0 }, { x: 0.3925, y: 0.3925 }],
    labels: egfrLabels,
    caption: '[SD difference per SD increased in egfr]',
    r2: '0.50', intercept: 'Intercept = 0.00 ± 0.01', slope: 'Slope = 0.99 ± 0.11',
    statsLeft: 26, statsY: [23.5, 40.5, 59.5], yTitleShift: 1,
    xAxisHeight: 103
});
</script>
</body>
</html>
